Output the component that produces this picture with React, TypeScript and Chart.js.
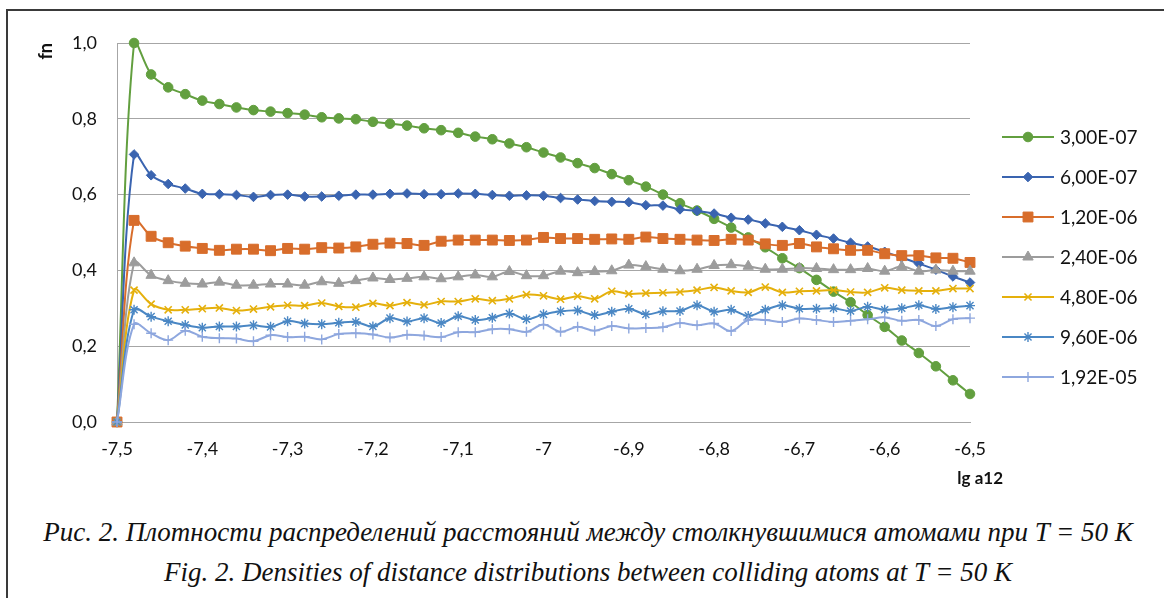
import React, { useEffect, useRef } from "react";
import { Chart, registerables } from "chart.js";
import { drawPoint } from "chart.js/helpers";

Chart.register(...registerables);

// ---- data ----
const xValues = [
  -7.5, -7.48, -7.46, -7.44, -7.42, -7.4, -7.38, -7.36, -7.34, -7.32,
  -7.3, -7.28, -7.26, -7.24, -7.22, -7.2, -7.18, -7.16, -7.14, -7.12,
  -7.1, -7.08, -7.06, -7.04, -7.02, -7.0, -6.98, -6.96, -6.94, -6.92,
  -6.9, -6.88, -6.86, -6.84, -6.82, -6.8, -6.78, -6.76, -6.74, -6.72,
  -6.7, -6.68, -6.66, -6.64, -6.62, -6.6, -6.58, -6.56, -6.54, -6.52, -6.5,
];

const seriesLabels = ["3,00E-07", "6,00E-07", "1,20E-06", "2,40E-06", "4,80E-06", "9,60E-06", "1,92E-05"];

const s300E07 = [
  0, 1.0, 0.917, 0.883, 0.865, 0.848, 0.839, 0.83, 0.823, 0.819,
  0.815, 0.811, 0.804, 0.801, 0.799, 0.792, 0.787, 0.782, 0.775, 0.77,
  0.763, 0.753, 0.746, 0.735, 0.725, 0.711, 0.698, 0.683, 0.67, 0.654,
  0.638, 0.621, 0.6, 0.577, 0.558, 0.536, 0.513, 0.487, 0.461, 0.432,
  0.406, 0.375, 0.344, 0.316, 0.282, 0.251, 0.215, 0.182, 0.147, 0.11, 0.074,
];
const s600E07 = [
  0, 0.706, 0.651, 0.628, 0.616, 0.602, 0.601, 0.599, 0.594, 0.599,
  0.6, 0.595, 0.595, 0.597, 0.6, 0.6, 0.602, 0.603, 0.601, 0.601,
  0.603, 0.602, 0.599, 0.597, 0.598, 0.597, 0.591, 0.587, 0.583, 0.581,
  0.58, 0.572, 0.571, 0.561, 0.557, 0.55, 0.539, 0.534, 0.524, 0.515,
  0.506, 0.494, 0.484, 0.473, 0.463, 0.449, 0.434, 0.418, 0.402, 0.384, 0.368,
];
const s120E06 = [
  0, 0.532, 0.49, 0.473, 0.464, 0.458, 0.453, 0.456, 0.456, 0.452,
  0.458, 0.456, 0.46, 0.459, 0.462, 0.469, 0.472, 0.471, 0.466, 0.477,
  0.48, 0.48, 0.48, 0.479, 0.48, 0.487, 0.484, 0.484, 0.482, 0.483,
  0.482, 0.488, 0.484, 0.482, 0.48, 0.479, 0.482, 0.48, 0.47, 0.466,
  0.471, 0.462, 0.457, 0.453, 0.453, 0.444, 0.439, 0.439, 0.433, 0.432, 0.421,
];
const s240E06 = [
  0, 0.42, 0.387, 0.373, 0.366, 0.364, 0.369, 0.361, 0.361, 0.364,
  0.364, 0.361, 0.37, 0.366, 0.373, 0.38, 0.376, 0.379, 0.383, 0.378,
  0.383, 0.388, 0.383, 0.397, 0.386, 0.386, 0.398, 0.394, 0.397, 0.399,
  0.414, 0.41, 0.403, 0.399, 0.403, 0.413, 0.415, 0.411, 0.403, 0.403,
  0.406, 0.405, 0.402, 0.402, 0.405, 0.398, 0.41, 0.398, 0.401, 0.398, 0.398,
];
const s480E06 = [
  0, 0.348, 0.311, 0.296, 0.296, 0.299, 0.301, 0.294, 0.298, 0.304,
  0.308, 0.307, 0.314, 0.305, 0.303, 0.313, 0.307, 0.315, 0.309, 0.318,
  0.318, 0.325, 0.32, 0.325, 0.336, 0.333, 0.324, 0.332, 0.325, 0.345,
  0.338, 0.34, 0.341, 0.343, 0.348, 0.355, 0.346, 0.342, 0.356, 0.342,
  0.345, 0.346, 0.348, 0.343, 0.342, 0.354, 0.348, 0.346, 0.346, 0.352, 0.352,
];
const s960E06 = [
  0, 0.296, 0.278, 0.266, 0.256, 0.249, 0.252, 0.252, 0.255, 0.251,
  0.266, 0.26, 0.258, 0.262, 0.264, 0.252, 0.274, 0.265, 0.274, 0.261,
  0.279, 0.269, 0.275, 0.286, 0.271, 0.284, 0.292, 0.294, 0.282, 0.291,
  0.299, 0.284, 0.292, 0.293, 0.308, 0.291, 0.296, 0.28, 0.296, 0.308,
  0.299, 0.299, 0.3, 0.293, 0.304, 0.296, 0.3, 0.308, 0.298, 0.303, 0.307,
];
const s192E05 = [
  0, 0.258, 0.234, 0.216, 0.241, 0.225, 0.221, 0.22, 0.213, 0.229,
  0.224, 0.225, 0.218, 0.232, 0.234, 0.231, 0.223, 0.23, 0.228, 0.224,
  0.237, 0.237, 0.245, 0.245, 0.238, 0.257, 0.238, 0.251, 0.241, 0.253,
  0.247, 0.248, 0.25, 0.261, 0.255, 0.26, 0.24, 0.269, 0.269, 0.264,
  0.273, 0.269, 0.264, 0.267, 0.271, 0.276, 0.267, 0.269, 0.253, 0.271, 0.274,
];

const xTickLabels = ["-7,5", "-7,4", "-7,3", "-7,2", "-7,1", "-7", "-6,9", "-6,8", "-6,7", "-6,6", "-6,5"];
const yTickLabels = ["0,0", "0,2", "0,4", "0,6", "0,8", "1,0"];
const yAxisTitle = "fn";
const xAxisTitle = "lg a12";
const captionRu = "Рис. 2. Плотности распределений расстояний между столкнувшимися атомами при T = 50 K";
const captionEn = "Fig. 2. Densities of distance distributions between colliding atoms at T = 50 K";

// ---- styles ----
const seriesColors = ["#629f3f", "#3a64b0", "#d86d2b", "#9c9c9c", "#e5b00c", "#4a87c4", "#8ea7de"];
const pointStyles = ["circle", "rectRot", "rect", "triangle", "crossRot", "star", "cross"];
const pointRadii = [4.8, 4.8, 7, 6, 5, 5, 5];
const pointBorders = [1, 1, 1, 1, 1.6, 1.4, 1.4];

const FONT = "Lato, 'Open Sans', sans-serif";

const sideLegend = {
  id: "sideLegend",
  afterDraw(chart: any) {
    const ctx = chart.ctx as CanvasRenderingContext2D;
    ctx.save();
    chart.data.datasets.forEach((ds: any, i: number) => {
      const y = 137 + 40 * i;
      ctx.strokeStyle = ds.borderColor;
      ctx.lineWidth = 2;
      ctx.beginPath();
      ctx.moveTo(1002, y);
      ctx.lineTo(1054, y);
      ctx.stroke();
      ctx.fillStyle = ds.pointBackgroundColor;
      ctx.strokeStyle = ds.pointBorderColor;
      ctx.lineWidth = ds.pointBorderWidth;
      drawPoint(ctx, { pointStyle: ds.pointStyle, rotation: 0, radius: ds.pointRadius, borderWidth: ds.pointBorderWidth }, 1028, y);
      ctx.fillStyle = "#111";
      ctx.font = `19px ${FONT}`;
      ctx.textAlign = "left";
      ctx.textBaseline = "middle";
      ctx.fillText(ds.label, 1060, y + 1);
    });
    ctx.font = `bold 17px ${FONT}`;
    ctx.fillStyle = "#111";
    ctx.textAlign = "right";
    ctx.textBaseline = "middle";
    ctx.fillText(xAxisTitle, 1003, 479);
    ctx.restore();
  },
};

export default function App() {
  const canvasRef = useRef<HTMLCanvasElement | null>(null);

  useEffect(() => {
    const seriesValues = [s300E07, s600E07, s120E06, s240E06, s480E06, s960E06, s192E05];
    const datasets = seriesValues.map((vals, i) => ({
      label: seriesLabels[i],
      data: vals.map((v, j) => ({ x: xValues[j], y: v })),
      borderColor: seriesColors[i],
      backgroundColor: seriesColors[i],
      pointBackgroundColor: seriesColors[i],
      pointBorderColor: seriesColors[i],
      pointStyle: pointStyles[i],
      pointRadius: pointRadii[i],
      pointBorderWidth: pointBorders[i],
      borderWidth: 2,
      tension: 0.35,
      fill: false,
      clip: 12,
      order: seriesValues.length - i,
    }));

    const chart = new Chart(canvasRef.current as HTMLCanvasElement, {
      type: "line",
      data: { datasets },
      options: {
        animation: false,
        responsive: false,
        devicePixelRatio: 1,
        layout: { padding: { left: 35, top: 43, right: 194, bottom: 0 } },
        elements: { line: { capBezierPoints: false } },
        plugins: { legend: { display: false }, tooltip: { enabled: false } },
        scales: {
          x: {
            type: "linear",
            min: -7.5,
            max: -6.5,
            afterFit: (s: any) => {
              s.height = 78;
            },
            afterBuildTicks: (s: any) => {
              s.ticks = xTickLabels.map((_, k) => ({ value: -7.5 + k * 0.1 }));
            },
            grid: { display: false, drawTicks: false },
            border: { display: true, color: "#a6a6a6", width: 1 },
            ticks: {
              autoSkip: false,
              maxRotation: 0,
              padding: 16,
              color: "#111",
              font: { family: FONT, size: 18 },
              callback: (_v: any, idx: number) => xTickLabels[idx],
            },
          },
          y: {
            min: 0,
            max: 1,
            afterFit: (s: any) => {
              s.width = 82;
            },
            afterBuildTicks: (s: any) => {
              s.ticks = yTickLabels.map((_, k) => ({ value: k * 0.2 }));
            },
            grid: { color: "#a6a6a6", lineWidth: 1, drawTicks: false },
            border: { display: true, color: "#a6a6a6", width: 1 },
            title: {
              display: true,
              text: yAxisTitle,
              align: "end",
              color: "#111",
              font: { family: FONT, size: 18, weight: "bold" },
              padding: 0,
            },
            ticks: {
              padding: 20,
              color: "#111",
              font: { family: FONT, size: 18 },
              callback: (_v: any, idx: number) => yTickLabels[idx],
            },
          },
        },
      } as any,
      plugins: [sideLegend],
    });
    return () => chart.destroy();
  }, []);

  const captionStyle: React.CSSProperties = {
    position: "absolute",
    left: 6,
    width: 1164,
    textAlign: "center",
    fontFamily: "'Liberation Serif', 'Times New Roman', serif",
    fontStyle: "italic",
    fontSize: 27,
    lineHeight: "30px",
    color: "#111",
    whiteSpace: "nowrap",
  };

  return (
    <div style={{ position: "absolute", left: 0, top: 0, width: 1164, height: 598, background: "#fff", overflow: "hidden" }}>
      <div
        style={{
          position: "absolute",
          left: 6,
          top: 9,
          width: 1200,
          height: 640,
          borderTop: "2px solid #3a3a3a",
          borderLeft: "2px solid #3a3a3a",
        }}
      />
      <canvas ref={canvasRef} width={1164} height={500} style={{ position: "absolute", left: 0, top: 0 }} />
      <div style={{ ...captionStyle, top: 517 }}>{captionRu}</div>
      <div style={{ ...captionStyle, top: 557 }}>{captionEn}</div>
    </div>
  );
}
